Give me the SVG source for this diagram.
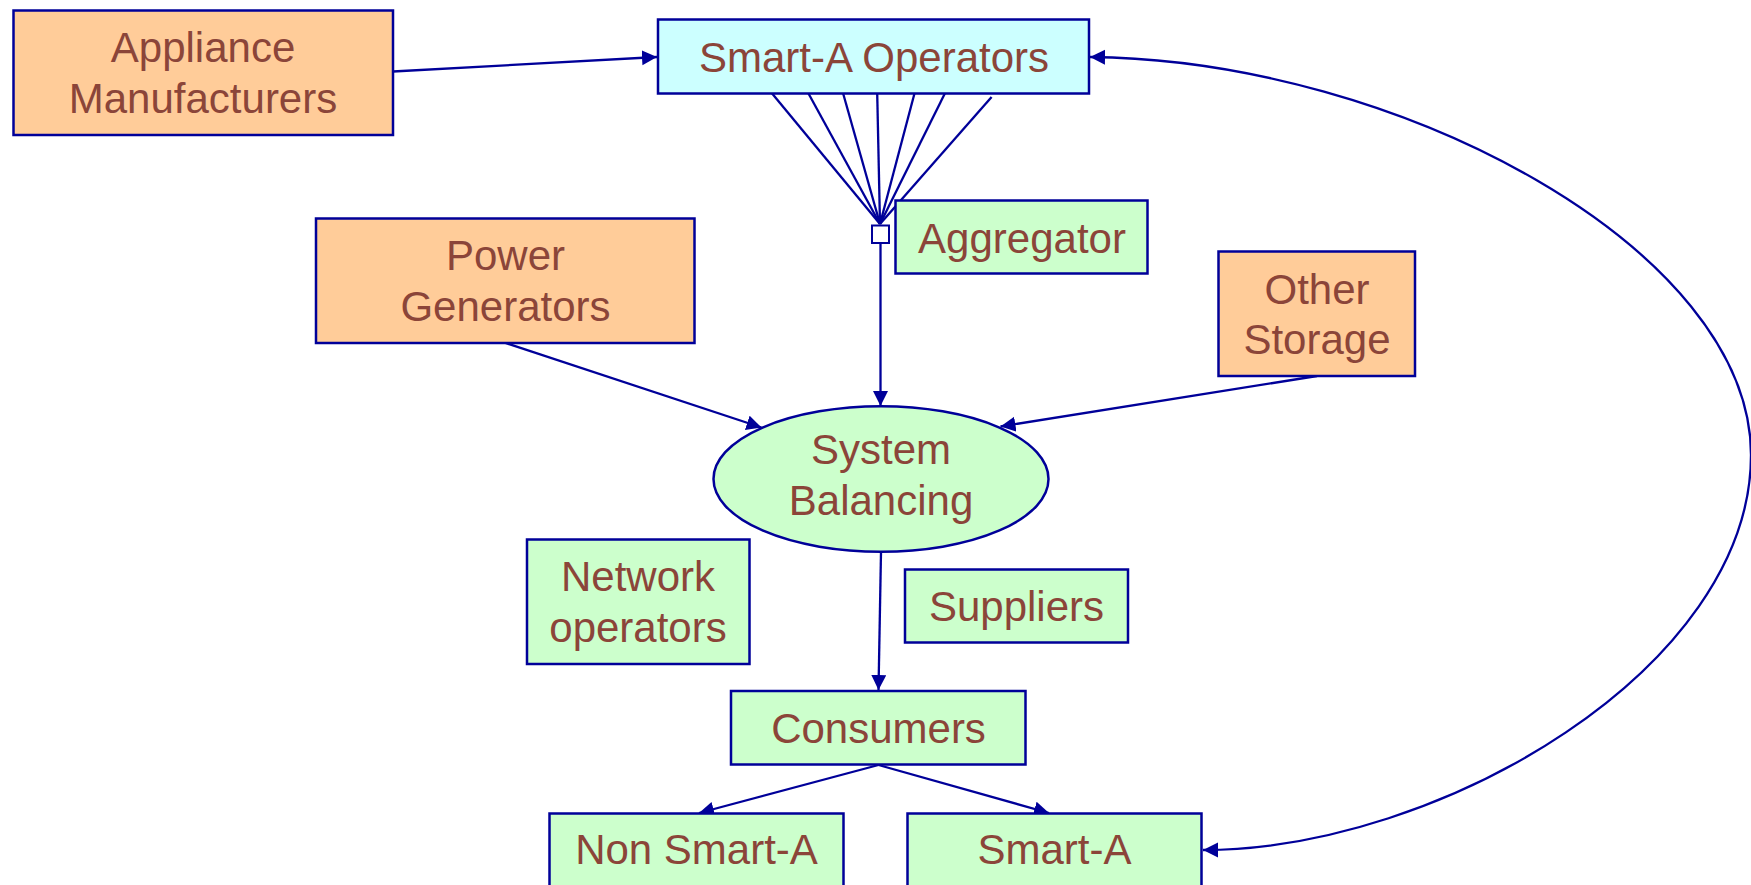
<svg xmlns="http://www.w3.org/2000/svg" width="1751" height="885" viewBox="0 0 1751 885">
<defs>
<style>
.box{stroke:#000099;stroke-width:2.5}
.or{fill:#FFCC99}.cy{fill:#CCFFFF}.gr{fill:#CCFFCC}
.t{font-family:"Liberation Sans",Arial,sans-serif;font-size:42px;fill:#8B4539;text-anchor:middle}
.c{fill:none;stroke:#000099;stroke-width:2.3}
</style>
<marker id="ah" markerUnits="userSpaceOnUse" markerWidth="16" markerHeight="16" refX="15" refY="7.5" orient="auto-start-reverse" viewBox="0 0 16 16">
<path d="M0,0 L15,7.5 L0,15 z" fill="#000099"/>
</marker>
</defs>
<rect width="1751" height="885" fill="#FFFFFF"/>
<g id="connectors">
<line class="c" x1="393" y1="71.5" x2="657" y2="57" marker-end="url(#ah)"/>
<g class="c">
<line x1="771.7" y1="93" x2="880" y2="224"/>
<line x1="808.2" y1="93" x2="880" y2="224"/>
<line x1="843" y1="93" x2="880" y2="224"/>
<line x1="877.2" y1="93" x2="880" y2="224"/>
<line x1="914.6" y1="93" x2="880" y2="224"/>
<line x1="945.1" y1="93" x2="880" y2="224"/>
<line x1="991.6" y1="97" x2="880" y2="224"/>
</g>
<line class="c" x1="880.5" y1="243" x2="880.5" y2="406" marker-end="url(#ah)"/>
<line class="c" x1="505.5" y1="343" x2="761.5" y2="427.5" marker-end="url(#ah)"/>
<line class="c" x1="1317" y1="376" x2="1000.5" y2="426.5" marker-end="url(#ah)"/>
<line class="c" x1="881" y1="552" x2="878.5" y2="690" marker-end="url(#ah)"/>
<line class="c" x1="878.5" y1="765" x2="699" y2="813" marker-end="url(#ah)"/>
<line class="c" x1="878.5" y1="765" x2="1049" y2="813" marker-end="url(#ah)"/>
<path class="c" d="M1090,57 C1400,60 1751,250 1751,455 C1751,668 1440,850 1203,850" marker-start="url(#ah)" marker-end="url(#ah)"/>
</g>
<g id="appliance-manufacturers">
<rect class="box or" x="13.5" y="10.5" width="379.5" height="124.5"/>
<text class="t" x="203" y="61.5">Appliance</text>
<text class="t" x="203" y="113">Manufacturers</text>
</g>
<g id="smart-a-operators">
<rect class="box cy" x="658" y="19.5" width="431" height="74"/>
<text class="t" x="874" y="71.5">Smart-A Operators</text>
</g>
<g id="aggregator">
<rect class="box gr" x="895.5" y="200.5" width="252" height="73"/>
<text class="t" x="1022" y="252.5">Aggregator</text>
</g>
<g id="aggregator-junction">
<rect x="872" y="225.5" width="17" height="17.5" fill="#FFFFFF" stroke="#000099" stroke-width="2"/>
</g>
<g id="power-generators">
<rect class="box or" x="316" y="218.5" width="378.5" height="124.5"/>
<text class="t" x="505.5" y="269.5">Power</text>
<text class="t" x="505.5" y="321">Generators</text>
</g>
<g id="other-storage">
<rect class="box or" x="1218.5" y="251.5" width="196.5" height="124.5"/>
<text class="t" x="1317" y="303.5">Other</text>
<text class="t" x="1317" y="354">Storage</text>
</g>
<g id="system-balancing">
<ellipse class="box gr" cx="881" cy="479" rx="167.5" ry="72.8"/>
<text class="t" x="881" y="464">System</text>
<text class="t" x="881" y="515">Balancing</text>
</g>
<g id="network-operators">
<rect class="box gr" x="527" y="539.5" width="222.5" height="124.5"/>
<text class="t" x="638" y="590.5">Network</text>
<text class="t" x="638" y="641.5">operators</text>
</g>
<g id="suppliers">
<rect class="box gr" x="905" y="569.5" width="223" height="73"/>
<text class="t" x="1016.5" y="620.5">Suppliers</text>
</g>
<g id="consumers">
<rect class="box gr" x="731" y="691" width="294.5" height="73.5"/>
<text class="t" x="878.5" y="742.5">Consumers</text>
</g>
<g id="non-smart-a">
<rect class="box gr" x="549.5" y="813.5" width="294" height="80"/>
<text class="t" x="696.5" y="864">Non Smart-A</text>
</g>
<g id="smart-a">
<rect class="box gr" x="907.5" y="813.5" width="294" height="80"/>
<text class="t" x="1054.5" y="864">Smart-A</text>
</g>
</svg>
